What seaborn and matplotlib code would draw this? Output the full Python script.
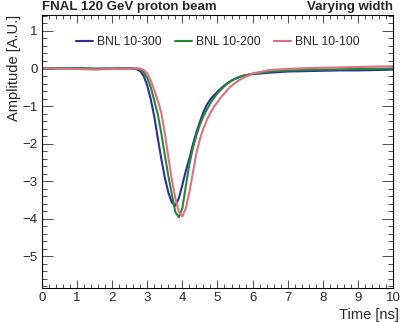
import matplotlib
matplotlib.use("Agg")
import matplotlib.pyplot as plt
from matplotlib.ticker import MultipleLocator
import seaborn as sns
import pandas as pd

# time axis [ns]
time_ns = [0.0, 0.5, 1.0, 1.5, 2.0,
           2.5, 2.6, 2.7, 2.8, 2.9, 3.0, 3.1, 3.2, 3.3, 3.4, 3.5, 3.6, 3.7, 3.8, 3.9,
           4.0, 4.1, 4.2, 4.3, 4.4, 4.5, 4.6, 4.7, 4.8, 4.9, 5.0, 5.1, 5.2, 5.3, 5.4,
           5.5, 5.6, 5.7, 5.8, 5.9, 6.0,
           6.5, 7.0, 7.5, 8.0, 8.5, 9.0, 9.5, 10.0]

bnl_300 = [0.0, 0.01, 0.0, -0.01, 0.0,
           0.01, 0.0, -0.02, -0.07, -0.2, -0.45, -0.82, -1.28, -1.85, -2.4, -2.9, -3.3, -3.57, -3.65, -3.45,
           -3.1, -2.72, -2.4, -2.02, -1.7, -1.42, -1.16, -0.96, -0.82, -0.71, -0.62, -0.53, -0.45, -0.38, -0.32,
           -0.27, -0.23, -0.2, -0.18, -0.16, -0.15,
           -0.11, -0.08, -0.07, -0.06, -0.05, -0.05, -0.04, -0.03]

bnl_200 = [0.0, 0.0, 0.01, 0.0, 0.0,
           0.0, 0.0, 0.0, -0.03, -0.1, -0.25, -0.5, -0.85, -1.22, -1.72, -2.3, -2.85, -3.35, -3.82, -3.96,
           -3.72, -3.12, -2.55, -2.12, -1.78, -1.5, -1.27, -1.09, -0.92, -0.78, -0.66, -0.56, -0.47, -0.39, -0.33,
           -0.28, -0.24, -0.2, -0.18, -0.16, -0.14,
           -0.08, -0.05, -0.04, -0.03, -0.02, -0.01, -0.01, 0.0]

bnl_100 = [0.0, 0.0, -0.01, -0.03, -0.01,
           0.0, 0.0, 0.0, 0.0, -0.04, -0.13, -0.32, -0.58, -0.85, -1.18, -1.72, -2.35, -2.95, -3.45, -3.82,
           -3.94, -3.72, -3.3, -2.78, -2.25, -1.88, -1.6, -1.37, -1.18, -1.02, -0.9, -0.77, -0.66, -0.55, -0.46,
           -0.39, -0.32, -0.27, -0.22, -0.18, -0.13,
           -0.04, -0.01, 0.01, 0.02, 0.03, 0.04, 0.05, 0.06]

sensors = ["BNL 10-300", "BNL 10-200", "BNL 10-100"]
colors = {"BNL 10-300": "#2f2f96", "BNL 10-200": "#1f8a3c", "BNL 10-100": "#e0707e"}

sns.set_theme(style="ticks")
plt.rcParams["font.family"] = ["Liberation Sans", "DejaVu Sans"]

df = pd.concat([
    pd.DataFrame({"Time": time_ns, "Amplitude": vals, "Sensor": name})
    for name, vals in zip(sensors, [bnl_300, bnl_200, bnl_100])
])

fig = plt.figure(figsize=(4.15, 3.22), dpi=100)
ax = fig.add_axes([0.101, 0.106, 0.846, 0.848])

sns.lineplot(data=df, x="Time", y="Amplitude", hue="Sensor", hue_order=sensors,
             palette=colors, sort=False, linewidth=1.5, ax=ax)

ax.set_xlim(0, 10)
ax.set_ylim(-5.84, 1.43)
ax.xaxis.set_major_locator(MultipleLocator(1))
ax.xaxis.set_minor_locator(MultipleLocator(0.2))
ax.yaxis.set_major_locator(MultipleLocator(1))
ax.yaxis.set_minor_locator(MultipleLocator(0.2))
ax.tick_params(axis="both", which="both", direction="in", top=True, right=True,
               width=0.6, color="#333333", labelsize=9.5, pad=3)
ax.tick_params(axis="x", which="major", length=5.9)
ax.tick_params(axis="x", which="minor", length=2.9)
ax.tick_params(axis="y", which="major", length=7.6)
ax.tick_params(axis="y", which="minor", length=3.8)
for s in ax.spines.values():
    s.set_linewidth(0.8)
    s.set_color("black")

ax.set_xlabel("Time [ns]", fontsize=10.5)
ax.set_ylabel("Amplitude [A.U.]", fontsize=10.5)
ax.xaxis.set_label_coords(1.018, -0.075)
ax.xaxis.label.set_ha("right")
ax.yaxis.set_label_coords(-0.1, 1.0)
ax.yaxis.label.set_va("top")
ax.yaxis.label.set_ha("right")

ax.text(0.0, 1.008, "FNAL 120 GeV proton beam", transform=ax.transAxes,
        ha="left", va="bottom", fontsize=9.5, fontweight="bold")
ax.text(1.0, 1.008, "Varying width", transform=ax.transAxes,
        ha="right", va="bottom", fontsize=9.5, fontweight="bold")

ax.legend(ncol=3, frameon=False, loc="center left", bbox_to_anchor=(0.097, 0.9),
          fontsize=8.7, handlelength=1.4, handletextpad=0.33, columnspacing=1.1,
          borderpad=0, borderaxespad=0)

fig.savefig("out.png", dpi=100)
plt.close(fig)
